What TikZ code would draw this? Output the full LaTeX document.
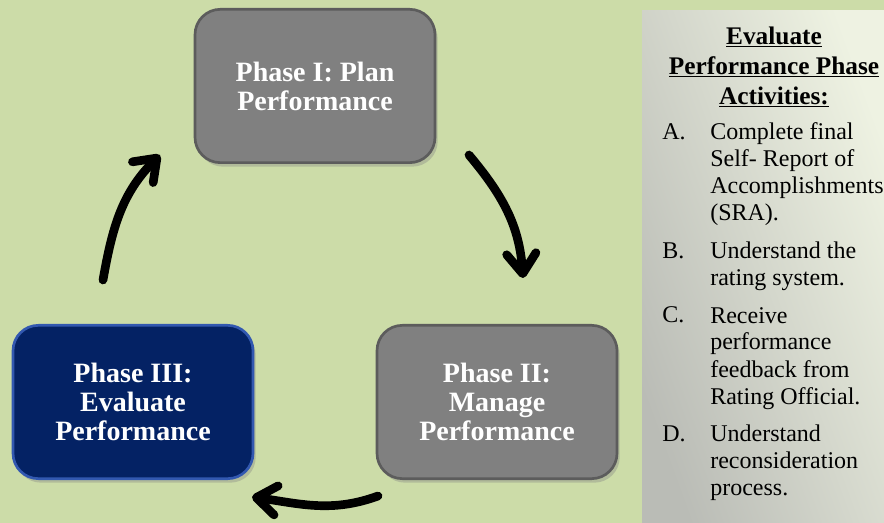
\documentclass[tikz,border=0pt]{standalone}
\usepackage{fontspec}
\setmainfont{Liberation Serif}
\usetikzlibrary{arrows.meta,shadows}

\definecolor{bggreen}{RGB}{204,220,168}
\definecolor{boxgray}{RGB}{128,128,128}
\definecolor{boxgrayedge}{RGB}{92,92,92}
\definecolor{boxnavy}{RGB}{4,34,100}
\definecolor{boxnavyedge}{RGB}{50,88,176}
\definecolor{panelgray}{RGB}{186,188,182}
\definecolor{panellight}{RGB}{238,242,226}

\begin{document}
\begin{tikzpicture}[x=0.75pt,y=0.75pt,>={Straight Barb[round,length=15pt,width=22pt]}]

    % ============================
    % Background
    % ============================

    \useasboundingbox (0,0) rectangle (884,-523);
    \fill[bggreen] (0,0) rectangle (884,-523);

    \tikzstyle{phase}=[rectangle,rounded corners=19pt,
            minimum width=180pt,minimum height=115pt,line width=2pt,
            drop shadow={opacity=0.35,shadow xshift=2pt,shadow yshift=-3pt},
            text=white,align=center,
            font=\bfseries\fontsize{21}{21.75}\selectfont]
    \tikzstyle{cyc}=[->,line width=6.5pt,line cap=round]
    \tikzstyle{item}=[anchor=base west,inner sep=0pt,align=left,
            font=\fontsize{18}{20.25}\selectfont]

    % ============================
    % Left Side: Cycle
    % ============================

    \node[phase,fill=boxgray,draw=boxgrayedge] (plan) at (315,-86)
            {Phase I: Plan\\Performance};
    \node[phase,fill=boxgray,draw=boxgrayedge] (manage) at (497,-402)
            {Phase II:\\Manage\\Performance};
    \node[phase,fill=boxnavy,draw=boxnavyedge] (evaluate) at (133,-402)
            {Phase III:\\Evaluate\\Performance};

    % Arrows between the phases
    \coordinate (planout) at (469,-155);
    \coordinate (managein) at (523,-278);
    \coordinate (manageout) at (378,-496);
    \coordinate (evaluatein) at (252,-497);
    \coordinate (evaluateout) at (103,-280);
    \coordinate (planin) at (160,-155);

    \draw[cyc] (planout) to[out=-50,in=94] (managein);
    \draw[cyc] (manageout) to[out=200,in=-8] (evaluatein);
    \draw[cyc] (evaluateout) to[out=80,in=225] (planin);

    % ============================
    % Right Side: Activities
    % ============================

    \fill[top color=panellight,bottom color=panelgray,shading angle=-70]
            (642,-11) rectangle (884,-523);

    \node[font=\bfseries\fontsize{19}{22.5}\selectfont,align=center] (head) at (774,-67)
            {\underline{Evaluate}\\\underline{Performance Phase}\\\underline{Activities:}};

    % letters sit on the first line, texts on their last line
    \node[item] (la) at (662,-140) {A.};
    \node[item] (ta) at (710,-221) {Complete final\\Self- Report of\\Accomplishments\\(SRA).};
    \node[item] (lb) at (662,-259) {B.};
    \node[item] (tb) at (710,-286) {Understand the\\rating system.};
    \node[item] (lc) at (662,-323) {C.};
    \node[item] (tc) at (710,-404) {Receive\\performance\\feedback from\\Rating Official.};
    \node[item] (ld) at (662,-441) {D.};
    \node[item] (td) at (710,-495) {Understand\\reconsideration\\process.};

\end{tikzpicture}
\end{document}
